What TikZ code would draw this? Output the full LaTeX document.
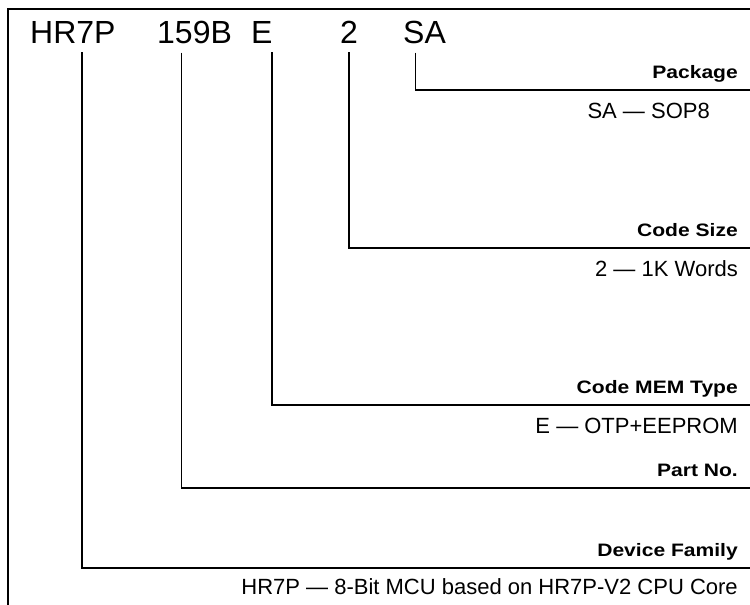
\documentclass[tikz,border=0pt]{standalone}
\usepackage{fontspec}
\setmainfont{Liberation Sans}
\newfontfamily\titlefont{Liberation Sans}
\newfontfamily\fieldfont[FakeStretch=1.17]{Liberation Sans}
\newfontfamily\descfont{Liberation Sans}
\usepackage{tikz}
\usetikzlibrary{positioning,calc}
\definecolor{ink}{HTML}{000000}
\tikzset{
  titlepart/.style={
    anchor=base west,inner sep=0pt,text=ink,
    font=\titlefont\fontsize{32}{36}\selectfont
  },
  fieldlabel/.style={
    anchor=base east,inner sep=0pt,text=ink,
    font=\fieldfont\bfseries\fontsize{18}{22}\selectfont
  },
  fielddesc/.style={
    anchor=base east,inner sep=0pt,text=ink,
    font=\descfont\fontsize{22}{25}\selectfont
  },
  conn/.style={draw=ink,line width=1.3pt},
  frame/.style={draw=ink,line width=2pt}
}
\begin{document}
\begin{tikzpicture}[x=1pt,y=-1pt]
\useasboundingbox (0,0) rectangle (750,605);
\draw[frame] (750,9) -- (8,9) -- (8,605);

% ordering code
\node[titlepart] (fam) at (30,43) {HR7P};
\node[titlepart] (part) at (157,43) {159B};
\node[titlepart] (mem) at (251,43) {E};
\node[titlepart] (size) at (340,43) {2};
\node[titlepart] (pkg) at (403,43) {SA};

% line ends at the right edge
\coordinate (pkgEnd) at (750,90);
\coordinate (sizeEnd) at (750,248);
\coordinate (memEnd) at (750,405);
\coordinate (partEnd) at (750,488);
\coordinate (famEnd) at (750,568);

\draw[conn] ([xshift=9pt,yshift=-9pt]fam.south) |- (famEnd);
\draw[conn] ([xshift=-13pt,yshift=-9pt]part.south) |- (partEnd);
\draw[conn] ([xshift=10pt,yshift=-9pt]mem.south) |- (memEnd);
\draw[conn] ([xshift=0pt,yshift=-9pt]size.south) |- (sizeEnd);
\draw[conn] ([xshift=-9pt,yshift=-9pt]pkg.south) |- (pkgEnd);

% field names and values
\node[fieldlabel] (pkgName) at (738,78) {Package};
\node[fielddesc] (pkgVal) at (710,118) {SA — SOP8};
\node[fieldlabel] (sizeName) at (738,236) {Code Size};
\node[fielddesc] (sizeVal) at (738,276) {2 — 1K Words};
\node[fieldlabel] (memName) at (738,393) {Code MEM Type};
\node[fielddesc] (memVal) at (738,433) {E — OTP+EEPROM};
\node[fieldlabel] (partName) at (738,476) {Part No.};
\node[fieldlabel] (famName) at (738,556) {Device Family};
\node[fielddesc] (famVal) at (738,594) {HR7P — 8-Bit MCU based on HR7P-V2 CPU Core};
\end{tikzpicture}
\end{document}
